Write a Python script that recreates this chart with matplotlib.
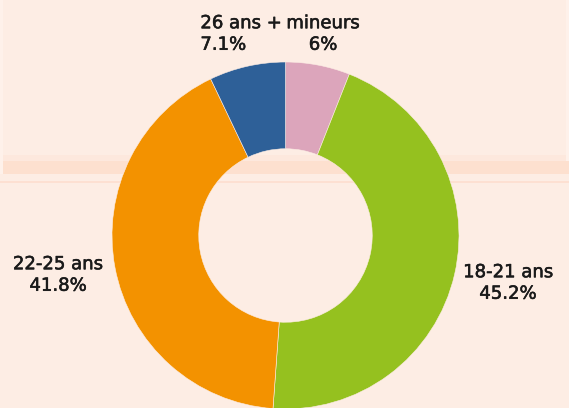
import matplotlib
matplotlib.use("Agg")
import matplotlib.pyplot as plt
from matplotlib.patches import Rectangle
import matplotlib.patheffects as pe

categories = ["mineurs", "18-21 ans", "22-25 ans", "26 ans +"]
values = [6.0, 45.2, 41.8, 7.1]
value_labels = ["6%", "45.2%", "41.8%", "7.1%"]
colors = ["#dca5bb", "#95c11f", "#f39200", "#2e6098"]

W, H = 569, 408
bg = "#fdede4"
fig = plt.figure(figsize=(W / 100, H / 100), dpi=100, facecolor=bg)
ax = fig.add_axes([0, 0, 1, 1])
ax.set_facecolor(bg)

# background page decorations (y measured from top)
def top_rect(x, y, w, h, c, z=0):
    ax.add_patch(Rectangle((x, H - y - h), w, h, facecolor=c, edgecolor="none", zorder=z))

top_rect(0, 0, 3, 174, "#fef1ea")
top_rect(566, 0, 3, 174, "#fef1ea")
top_rect(3, 155, 563, 6, "#fde8dd")
top_rect(3, 161, 566, 13, "#fde0cf")
top_rect(0, 181, W, 1.5, "#fde0d2")

cx, cy, r = 285.5, H - 235.5, 173.5
ax.pie(values, colors=colors, startangle=90, counterclock=False,
       center=(cx, cy), radius=r, frame=True,
       wedgeprops=dict(width=r * 0.5, edgecolor=bg, linewidth=0.4))
ax.set_xlim(0, W)
ax.set_ylim(0, H)
ax.set_aspect("equal")
ax.axis("off")

font = dict(family="DejaVu Sans", fontsize=13, color="#1a1a1a",
            linespacing=1.25,
            path_effects=[pe.withStroke(linewidth=0.4, foreground="#1a1a1a")])
positions = {"mineurs": (323, 34, "center"),
             "18-21 ans": (508, 283, "center"),
             "22-25 ans": (58, 275, "center"),
             "26 ans +": (241, 34, "left")}
for cat, lab in zip(categories, value_labels):
    x, y, ma = positions[cat]
    ax.text(x, H - y, f"{cat}\n{lab}", ha="center", va="center", multialignment=ma, **font)

fig.savefig("out.png", dpi=100, facecolor=bg)
